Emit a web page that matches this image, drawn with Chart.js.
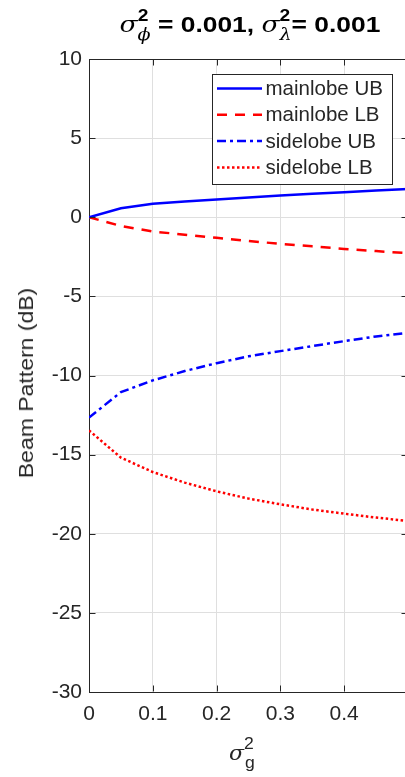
<!DOCTYPE html>
<html>
<head>
<meta charset="utf-8">
<script src="https://cdn.jsdelivr.net/npm/chart.js@4.4.1/dist/chart.umd.min.js"></script>
<style>
  html, body { margin: 0; padding: 0; background: #fff; }
  body { width: 405px; height: 777px; overflow: hidden; }
  #wrap { position: relative; width: 418px; height: 777px; font-family: "Liberation Sans", Arial, sans-serif; color: #000; }
  #chart { position: absolute; left: 0; top: 0; }
  #title { position: absolute; left: 250px; top: 13px; transform: translateX(-50%) scaleX(1.2); white-space: nowrap;
           font-weight: bold; font-size: 22px; line-height: 24px; }
  #xlabel { position: absolute; left: 242px; top: 741px; transform: translateX(-50%) scaleX(1.1); white-space: nowrap;
            font-size: 20px; line-height: 24px; color: #262626; }
  #ylabel { position: absolute; left: 26px; top: 383px; transform: translate(-50%, -50%) rotate(-90deg) scaleX(1.15);
            white-space: nowrap; font-size: 20px; line-height: 24px; color: #262626; }
  .gr { font-style: italic; font-family: "DejaVu Serif", serif; font-weight: normal; }
  .sup { position: relative; top: -11px; font-size: 16px; }
  .sub { position: relative; top: 8px; font-size: 16px; margin-left: -9px; }
</style>
</head>
<body>
<div id="wrap">
  <canvas id="chart" width="418" height="777"></canvas>
  <div id="title"><span class="gr">σ</span><span class="sup">2</span><span class="sub"><span class="gr">ϕ</span></span> = 0.001, <span class="gr">σ</span><span class="sup">2</span><span class="sub"><span class="gr">λ</span></span>= 0.001</div>
  <div id="xlabel"><span class="gr">σ</span><span class="sup">2</span><span class="sub" style="margin-left:-8px">g</span></div>
  <div id="ylabel">Beam Pattern (dB)</div>
</div>
<script>
// sigma_g^2 sample points
const xValues = [0, 0.05, 0.1, 0.15, 0.2, 0.25, 0.3, 0.35, 0.4, 0.45, 0.5];

// beam pattern bounds (dB)
const mainlobeUB = [0, 0.57, 0.85, 1.0, 1.12, 1.25, 1.37, 1.48, 1.58, 1.69, 1.79];
const mainlobeLB = [0, -0.55, -0.9, -1.1, -1.3, -1.5, -1.68, -1.84, -2.0, -2.14, -2.27];
const sidelobeUB = [-12.66, -11.05, -10.31, -9.72, -9.22, -8.79, -8.46, -8.14, -7.83, -7.53, -7.3];
const sidelobeLB = [-13.47, -15.19, -16.1, -16.77, -17.32, -17.78, -18.14, -18.47, -18.73, -18.98, -19.19];

const seriesNames = ['mainlobe UB', 'mainlobe LB', 'sidelobe UB', 'sidelobe LB'];

function toPoints(ys) {
  return xValues.map((x, i) => ({ x: x, y: ys[i] }));
}

const axisColor = '#262626';

// box lines, inward ticks and the legend, drawn MATLAB-style
const framePlugin = {
  id: 'frame',
  afterDatasetsDraw(chart) {
    const ctx = chart.ctx;
    const a = chart.chartArea;
    const xs = chart.scales.x;
    const ys = chart.scales.y;
    const L = Math.round(a.left) + 0.5, R = Math.round(a.right) - 0.5;
    const T = Math.round(a.top) + 0.5, B = Math.round(a.bottom) - 0.5;
    ctx.save();
    ctx.strokeStyle = axisColor;
    ctx.lineWidth = 1;
    ctx.setLineDash([]);
    ctx.beginPath();
    ctx.moveTo(L, T); ctx.lineTo(R, T); ctx.lineTo(R, B);
    xs.ticks.forEach(t => {
      const px = Math.round(xs.getPixelForValue(t.value)) + 0.5;
      ctx.moveTo(px, B); ctx.lineTo(px, B - 6);
      ctx.moveTo(px, T); ctx.lineTo(px, T + 6);
    });
    ys.ticks.forEach(t => {
      const py = Math.round(ys.getPixelForValue(t.value)) + 0.5;
      ctx.moveTo(L, py); ctx.lineTo(L + 6, py);
      ctx.moveTo(R, py); ctx.lineTo(R - 6, py);
    });
    ctx.stroke();

    // legend
    const bx = 212.5, by = 74.5, bw = 180, bh = 110;
    ctx.fillStyle = '#fff';
    ctx.fillRect(bx, by, bw, bh);
    ctx.strokeRect(bx, by, bw, bh);
    ctx.font = '20.5px "Liberation Sans", Arial, sans-serif';
    ctx.textBaseline = 'middle';
    chart.data.datasets.forEach((ds, i) => {
      const ry = 88.5 + i * 26.3;
      ctx.beginPath();
      ctx.strokeStyle = ds.borderColor;
      ctx.lineWidth = ds.borderWidth;
      ctx.setLineDash(ds.borderDash || []);
      ctx.moveTo(217, ry); ctx.lineTo(262, ry);
      ctx.stroke();
      ctx.fillStyle = axisColor;
      ctx.fillText(ds.label, 265.5, ry + 1);
    });
    ctx.restore();
  }
};

new Chart(document.getElementById('chart').getContext('2d'), {
  type: 'line',
  data: {
    datasets: [{
      label: seriesNames[0],
      data: toPoints(mainlobeUB),
      borderColor: '#0000ff',
      borderWidth: 2.5,
      borderDash: []
    }, {
      label: seriesNames[1],
      data: toPoints(mainlobeLB),
      borderColor: '#ff0000',
      borderWidth: 2.5,
      borderDash: [10, 8]
    }, {
      label: seriesNames[2],
      data: toPoints(sidelobeUB),
      borderColor: '#0000ff',
      borderWidth: 2.5,
      borderDash: [9, 4, 3, 4]
    }, {
      label: seriesNames[3],
      data: toPoints(sidelobeLB),
      borderColor: '#ff0000',
      borderWidth: 2.5,
      borderDash: [2.5, 2.5]
    }]
  },
  options: {
    responsive: false,
    animation: false,
    layout: { padding: { top: 59, right: 5, left: 0, bottom: 0 } },
    elements: {
      point: { radius: 0 },
      line: { tension: 0, fill: false, borderCapStyle: 'butt' }
    },
    plugins: {
      legend: { display: false },
      tooltip: { enabled: false }
    },
    scales: {
      x: {
        type: 'linear',
        min: 0,
        max: 0.5,
        ticks: {
          stepSize: 0.1,
          color: axisColor,
          font: { family: '"Liberation Sans", Arial, sans-serif', size: 21 },
          padding: 10,
          maxRotation: 0,
          callback: v => {
            const r = Math.round(v * 10) / 10;
            return r >= 0.5 ? '' : String(r);
          }
        },
        grid: { color: '#dfdfdf', lineWidth: 1, drawTicks: false },
        border: { color: axisColor, width: 1 },
        afterFit: s => { s.height = 85; }
      },
      y: {
        min: -30,
        max: 10,
        ticks: {
          stepSize: 5,
          color: axisColor,
          font: { family: '"Liberation Sans", Arial, sans-serif', size: 21 },
          padding: 7
        },
        grid: { color: '#dfdfdf', lineWidth: 1, drawTicks: false },
        border: { color: axisColor, width: 1 },
        afterFit: s => { s.width = 89; }
      }
    }
  },
  plugins: [framePlugin]
});
</script>
</body>
</html>
